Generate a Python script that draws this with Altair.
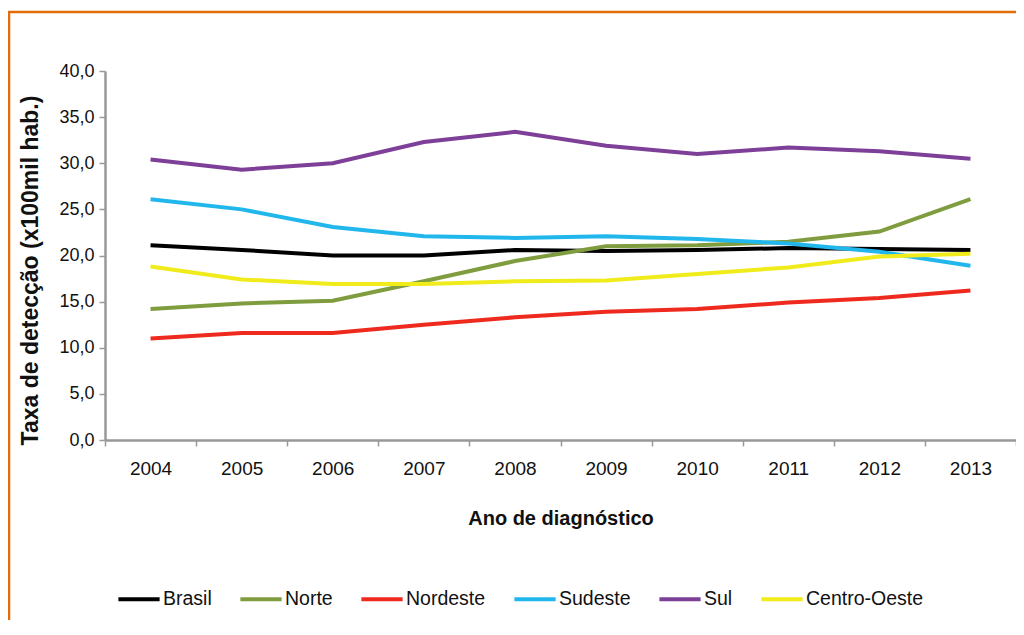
import altair as alt
import pandas as pd

years = ["2004", "2005", "2006", "2007", "2008", "2009", "2010", "2011", "2012", "2013"]
series_names = ["Brasil", "Norte", "Nordeste", "Sudeste", "Sul", "Centro-Oeste"]
series_colors = ["#000000", "#7F9C3F", "#EE2A1E", "#21B7EC", "#7E3F98", "#F0EB1B"]

brasil = [21.1, 20.6, 20.0, 20.0, 20.6, 20.5, 20.6, 20.8, 20.7, 20.6]
norte = [14.2, 14.8, 15.1, 17.2, 19.4, 21.0, 21.1, 21.5, 22.6, 26.1]
nordeste = [11.0, 11.6, 11.6, 12.5, 13.3, 13.9, 14.2, 14.9, 15.4, 16.2]
sudeste = [26.1, 25.0, 23.1, 22.1, 21.9, 22.1, 21.8, 21.3, 20.4, 18.9]
sul = [30.4, 29.3, 30.0, 32.3, 33.4, 31.9, 31.0, 31.7, 31.3, 30.5]
centro_oeste = [18.8, 17.4, 16.9, 16.9, 17.2, 17.3, 18.0, 18.7, 19.9, 20.2]

y_ticks = [0, 5, 10, 15, 20, 25, 30, 35, 40]

values = [brasil, norte, nordeste, sudeste, sul, centro_oeste]
rows = []
for name, vals in zip(series_names, values):
    for yr, v in zip(years, vals):
        rows.append({"Ano": yr, "Regiao": name, "Taxa": v})
df = pd.DataFrame(rows)

W, H = 911, 369
FONT = "Liberation Sans"
ORANGE = "#E36C0A"

lines = alt.Chart(df).mark_line(strokeWidth=4).encode(
    x=alt.X(
        "Ano:O",
        bandPosition=0.5,
        scale=alt.Scale(type="band", domain=years, paddingInner=0, paddingOuter=0),
        axis=alt.Axis(
            title="Ano de diagnóstico",
            labelAngle=0,
            tickBand="extent",
            tickSize=6,
            tickColor="#999999",
            tickWidth=1.5,
            domainColor="#999999",
            domainWidth=2.5,
            labelFont=FONT,
            labelFontSize=19,
            labelColor="#111111",
            labelPadding=13,
            titleFont=FONT,
            titleFontSize=20,
            titleFontWeight="bold",
            titleColor="#111111",
            titleY=78,
            titleBaseline="middle",
        ),
    ),
    y=alt.Y(
        "Taxa:Q",
        scale=alt.Scale(domain=[0, 40], nice=False, zero=True),
        axis=alt.Axis(
            title="Taxa de detecção (x100mil hab.)",
            values=y_ticks,
            labelExpr="replace(format(datum.value, '.1f'), '.', ',')",
            grid=False,
            tickSize=6,
            tickColor="#999999",
            tickWidth=1.5,
            domainColor="#999999",
            domainWidth=2.5,
            labelFont=FONT,
            labelFontSize=18,
            labelColor="#111111",
            labelPadding=5,
            titleFont=FONT,
            titleFontSize=23,
            titleFontWeight="bold",
            titleColor="#111111",
            titleAngle=270,
            titleAlign="center",
            titleBaseline="middle",
            titleX=-75,
            titleY=199,
        ),
    ),
    color=alt.Color(
        "Regiao:N",
        scale=alt.Scale(domain=series_names, range=series_colors),
        legend=alt.Legend(
            title=None,
            orient="none",
            direction="horizontal",
            legendX=11,
            legendY=505,
            symbolType="stroke",
            symbolSize=1700,
            symbolStrokeWidth=4,
            labelFont=FONT,
            labelFontSize=19.5,
            labelColor="#111111",
            labelOffset=1,
            columnPadding=20,
        ),
    ),
)

dummy = pd.DataFrame({"a": [0]})
top_border = alt.Chart(dummy).mark_rule(color=ORANGE, strokeWidth=2.5).encode(
    x=alt.value(-97), x2=alt.value(W + 5), y=alt.value(-59)
)
left_border = alt.Chart(dummy).mark_rule(color=ORANGE, strokeWidth=2.5).encode(
    x=alt.value(-96), y=alt.value(-60), y2=alt.value(H + 300)
)

chart = alt.layer(lines, top_border, left_border).properties(
    width=W,
    height=H,
    autosize=alt.AutoSizeParams(type="none"),
    padding={"left": 97, "top": 63, "right": 0, "bottom": 180},
).configure_view(stroke=None)

chart.save("out.html", embed_options={"renderer": "svg", "actions": False})
